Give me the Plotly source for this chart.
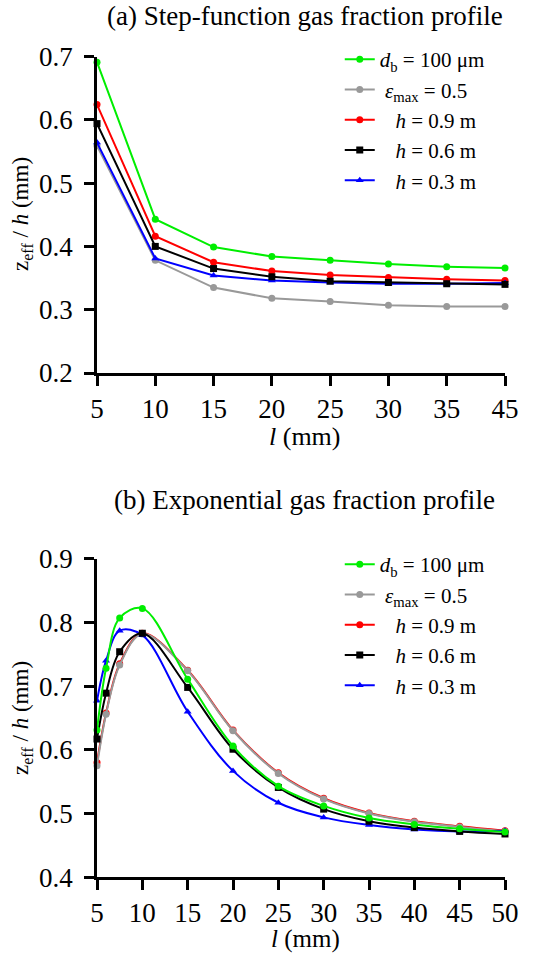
import plotly.graph_objects as go

# ---------------- data ----------------
# (a) step-function profile (categorical x)
l_a = ["5", "10", "15", "20", "25", "30", "35", "45"]
a_db100 = [0.691, 0.443, 0.399, 0.384, 0.378, 0.372, 0.368, 0.366]
a_eps05 = [0.559, 0.378, 0.335, 0.318, 0.313, 0.307, 0.305, 0.305]
a_h09 = [0.624, 0.416, 0.375, 0.361, 0.355, 0.351, 0.348, 0.346]
a_h06 = [0.594, 0.400, 0.365, 0.352, 0.345, 0.343, 0.341, 0.340]
a_h03 = [0.564, 0.381, 0.354, 0.346, 0.343, 0.341, 0.341, 0.342]

# (b) exponential profile
l_b = [5, 6, 7.5, 10, 15, 20, 25, 30, 35, 40, 45, 50]
b_db100 = [0.631, 0.728, 0.807, 0.822, 0.711, 0.606, 0.543, 0.512, 0.493, 0.483, 0.476, 0.471]
b_eps05 = [0.575, 0.656, 0.733, 0.782, 0.724, 0.630, 0.563, 0.523, 0.500, 0.487, 0.479, 0.472]
b_h09 = [0.580, 0.658, 0.735, 0.783, 0.725, 0.631, 0.564, 0.524, 0.501, 0.488, 0.480, 0.473]
b_h06 = [0.617, 0.689, 0.754, 0.783, 0.698, 0.601, 0.541, 0.507, 0.488, 0.478, 0.472, 0.468]
b_h03 = [0.677, 0.740, 0.787, 0.780, 0.660, 0.567, 0.517, 0.494, 0.482, 0.475, 0.472, 0.473]

x_ticks_a = ["5", "10", "15", "20", "25", "30", "35", "45"]
y_ticks_a = [0.2, 0.3, 0.4, 0.5, 0.6, 0.7]
x_ticks_b = [5, 10, 15, 20, 25, 30, 35, 40, 45, 50]
y_ticks_b = [0.4, 0.5, 0.6, 0.7, 0.8, 0.9]

names = [
    "<i>d</i><sub>b</sub> = 100 μm",
    "\u00a0<i>ε</i><sub>max</sub> = 0.5",
    "\u00a0\u00a0\u00a0<i>h</i> = 0.9 m",
    "\u00a0\u00a0\u00a0<i>h</i> = 0.6 m",
    "\u00a0\u00a0\u00a0<i>h</i> = 0.3 m",
]
colors = ["#00EE00", "#999999", "#FF0000", "#000000", "#0000FF"]
symbols = ["circle", "circle", "circle", "square", "triangle-up"]

FONT = "Liberation Serif"
fig = go.Figure()

series_a = [a_db100, a_eps05, a_h09, a_h06, a_h03]
draw_a = [1, 0, 2, 4, 3]
for i in draw_a:
    fig.add_trace(go.Scatter(
        x=l_a, y=series_a[i], name=names[i], mode="lines+markers",
        line=dict(color=colors[i], width=2),
        marker=dict(color=colors[i], symbol=symbols[i], size=7),
        xaxis="x", yaxis="y", legend="legend", cliponaxis=False,
        legendrank=i,
    ))

series_b = [b_db100, b_eps05, b_h09, b_h06, b_h03]
draw_b = [2, 1, 4, 3, 0]
for i in draw_b:
    fig.add_trace(go.Scatter(
        x=l_b, y=series_b[i], name=names[i], mode="lines+markers",
        line=dict(color=colors[i], width=2, shape="spline", smoothing=1.0),
        marker=dict(color=colors[i], symbol=symbols[i], size=7),
        xaxis="x2", yaxis="y2", legend="legend2", cliponaxis=False,
        legendrank=i,
    ))

H = 954.0
def py(p):
    return 1 - p / H

axis_common = dict(
    showline=True, linecolor="black", linewidth=2.5, ticks="outside",
    ticklen=10, tickwidth=2.5, tickcolor="black", showgrid=False,
    zeroline=False, automargin=False,
    tickfont=dict(family=FONT, size=27, color="black"),
)

fig.update_layout(
    width=542, height=954,
    margin=dict(l=97, r=37, t=0, b=0, pad=0),
    paper_bgcolor="white", plot_bgcolor="white",
    font=dict(family=FONT, color="black"),
    xaxis=dict(type="category", range=[0, 7], tickvals=x_ticks_a,
               anchor="y", domain=[0, 1], **axis_common),
    yaxis=dict(range=[0.2, 0.7], tickvals=y_ticks_a, tickformat=".1f",
               domain=[py(373), py(56.5)], anchor="x", ticklabelstandoff=6,
               **axis_common),
    xaxis2=dict(range=[5, 50], tickvals=x_ticks_b, anchor="y2",
                domain=[0, 1], **axis_common),
    yaxis2=dict(range=[0.4, 0.9], tickvals=y_ticks_b, tickformat=".1f",
                domain=[py(877.3), py(558.7)], anchor="x2", ticklabelstandoff=6,
                **axis_common),
    legend=dict(x=0.595, y=py(39), xanchor="left", yanchor="top",
                font=dict(family=FONT, size=21), bgcolor="rgba(0,0,0,0)",
                itemwidth=30, tracegroupgap=0),
    legend2=dict(x=0.595, y=py(544), xanchor="left", yanchor="top",
                 font=dict(family=FONT, size=21), bgcolor="rgba(0,0,0,0)",
                 itemwidth=30, tracegroupgap=0),
    showlegend=True,
)

ann = [
    dict(text="(a) Step-function gas fraction profile", x=305, y=16, size=27),
    dict(text="(b) Exponential gas fraction profile", x=304, y=500, size=27),
    dict(text="<i>l</i> (mm)", x=305, y=436, size=26),
    dict(text="<i>l</i> (mm)", x=305, y=939, size=25),
]
for a in ann:
    fig.add_annotation(text=a["text"], xref="paper", yref="paper",
                       x=(a["x"] - 97) / 408.0, y=py(a["y"]),
                       xanchor="center", yanchor="middle", showarrow=False,
                       font=dict(family=FONT, size=a["size"], color="black"))
for yc in [214, 718]:
    fig.add_annotation(text="z<sub>eff</sub> / <i>h</i> (mm)", xref="paper", yref="paper",
                       x=(22 - 97) / 408.0, y=py(yc), xanchor="center", yanchor="middle",
                       textangle=-90, showarrow=False,
                       font=dict(family=FONT, size=23, color="black"))

fig.write_html("out.html", config={"displayModeBar": False},
               post_script="document.body.style.margin='0';document.body.style.padding='0';")
